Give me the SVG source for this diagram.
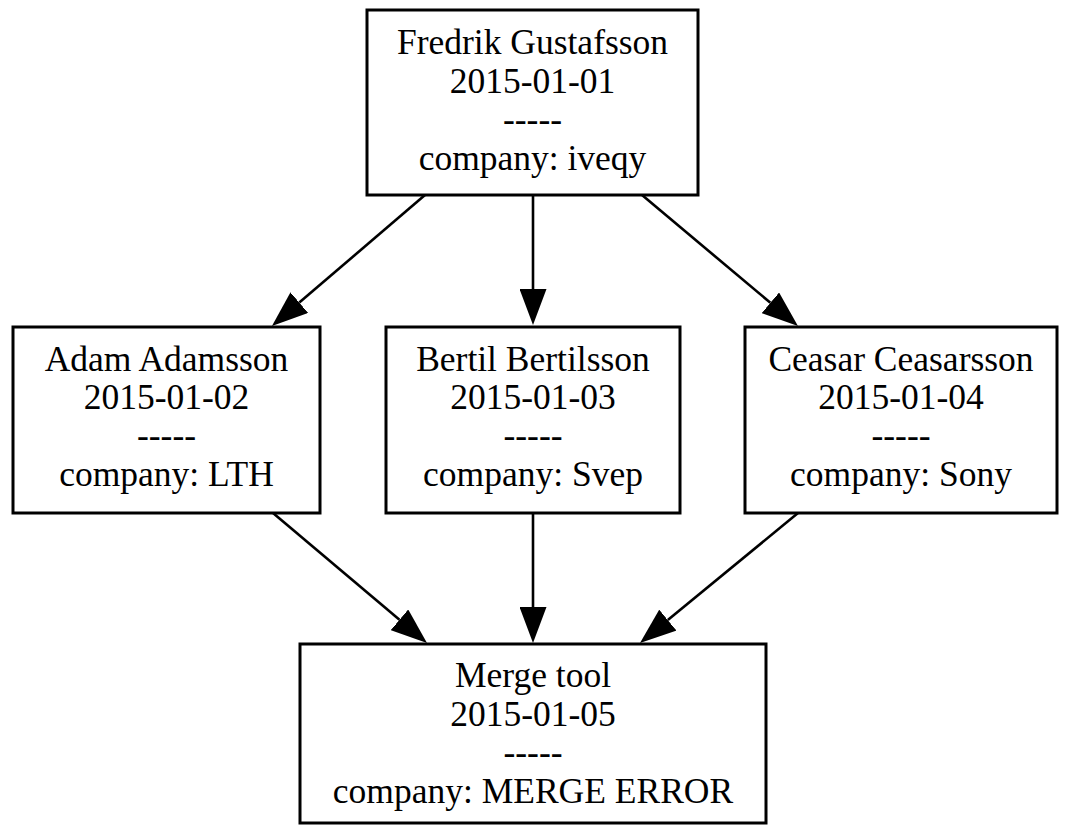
<svg xmlns="http://www.w3.org/2000/svg" width="1065" height="828" viewBox="0 0 1065 828">
  <style>
    .box { fill: #ffffff; stroke: #000000; stroke-width: 3; }
    .lbl { font-family: "Liberation Serif", "Times New Roman", serif; font-size: 35.5px; fill: #000000; text-anchor: middle; }
    .edge { fill: none; stroke: #000000; stroke-width: 2.6; marker-end: url(#arrow); }
  </style>
  <defs>
    <marker id="arrow" markerUnits="userSpaceOnUse" viewBox="0 0 36 27" refX="0" refY="13.5" markerWidth="36" markerHeight="27" orient="auto">
      <path d="M0,0 L36,13.5 L0,27 z" fill="#000000"/>
    </marker>
  </defs>
  <rect width="1065" height="828" fill="#ffffff"/>

  <!-- connectors -->
  <g id="edges">
    <line class="edge" x1="425" y1="195" x2="299.3" y2="302.6"/>
    <line class="edge" x1="533" y1="195" x2="533" y2="289"/>
    <line class="edge" x1="642" y1="195" x2="770.4" y2="302.8"/>
    <line class="edge" x1="273" y1="513" x2="399.5" y2="619.8"/>
    <line class="edge" x1="533" y1="513" x2="533" y2="607"/>
    <line class="edge" x1="798" y1="513" x2="667.8" y2="620.1"/>
  </g>

  <!-- root commit -->
  <g id="node-fredrik">
    <rect class="box" x="367" y="10" width="331" height="185"/>
    <text class="lbl" x="532.5" y="54">Fredrik Gustafsson</text>
    <text class="lbl" x="532.5" y="93">2015-01-01</text>
    <text class="lbl" x="532.5" y="131">-----</text>
    <text class="lbl" x="532.5" y="170">company: iveqy</text>
  </g>

  <g id="node-adam">
    <rect class="box" x="13" y="327" width="307" height="186"/>
    <text class="lbl" x="166.5" y="371">Adam Adamsson</text>
    <text class="lbl" x="166.5" y="409">2015-01-02</text>
    <text class="lbl" x="166.5" y="447">-----</text>
    <text class="lbl" x="166.5" y="486">company: LTH</text>
  </g>

  <g id="node-bertil">
    <rect class="box" x="386" y="327" width="294" height="186"/>
    <text class="lbl" x="533" y="371">Bertil Bertilsson</text>
    <text class="lbl" x="533" y="409">2015-01-03</text>
    <text class="lbl" x="533" y="447">-----</text>
    <text class="lbl" x="533" y="486">company: Svep</text>
  </g>

  <g id="node-ceasar">
    <rect class="box" x="745" y="327" width="312" height="186"/>
    <text class="lbl" x="901" y="371">Ceasar Ceasarsson</text>
    <text class="lbl" x="901" y="409">2015-01-04</text>
    <text class="lbl" x="901" y="447">-----</text>
    <text class="lbl" x="901" y="486">company: Sony</text>
  </g>

  <!-- merge result -->
  <g id="node-merge">
    <rect class="box" x="300" y="644" width="466" height="179"/>
    <text class="lbl" x="533" y="687">Merge tool</text>
    <text class="lbl" x="533" y="726">2015-01-05</text>
    <text class="lbl" x="533" y="764">-----</text>
    <text class="lbl" x="533" y="803">company: MERGE ERROR</text>
  </g>
</svg>
